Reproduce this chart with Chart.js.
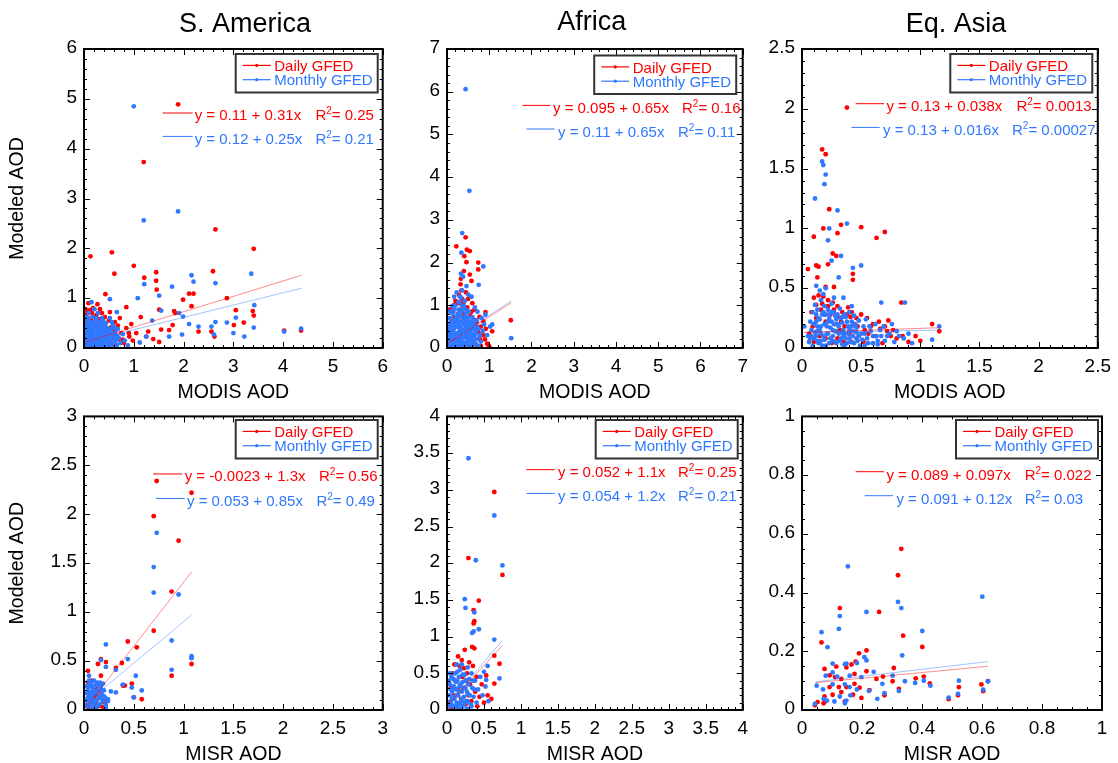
<!DOCTYPE html>
<html>
<head>
<meta charset="utf-8">
<script src="https://cdn.jsdelivr.net/npm/chart.js@4.4.0/dist/chart.umd.min.js"></script>
<style>
  body { margin: 0; background: #fff; }
  #wrap { position: relative; width: 1118px; height: 763px; overflow: hidden; }
  canvas { position: absolute; }
</style>
</head>
<body>
<div id="wrap"></div>
<script>
const saModisDaily = [[1.89,4.89],[1.2,3.73],[2.64,2.38],[3.41,1.99],[0.13,1.84],[0.56,1.92],[1.0,1.65],[0.61,1.49],[1.45,1.52],[1.21,1.41],[1.45,1.35],[2.59,1.54],[1.46,1.17],[2.11,1.09],[2.2,1.09],[1.99,0.97],[2.87,1.0],[2.16,0.84],[1.81,0.74],[3.39,0.74],[3.41,0.65],[3.05,0.76],[3.21,0.51],[3.01,0.46],[4.02,0.35],[4.36,0.35],[2.3,0.33],[2.56,0.33],[2.62,0.23],[0.43,1.08],[0.85,0.82],[1.05,0.3],[1.14,0.62],[1.51,0.77],[1.83,0.7],[1.78,0.46],[1.71,0.36],[1.55,0.37],[1.29,0.33],[1.39,0.18],[1.51,0.12],[1.25,0.23],[0.91,0.23],[0.78,0.17],
  [0.03,0.78],[0.07,0.72],[0.12,0.76],[0.16,0.7],[0.2,0.62],[0.25,0.66],[0.08,0.6],[0.14,0.55],[0.3,0.58],[0.35,0.5],[0.4,0.45],[0.05,0.5],[0.22,0.48],[0.28,0.42],[0.45,0.38],[0.5,0.3],[0.55,0.42],[0.6,0.35],[0.65,0.25],[0.7,0.18],[0.1,0.4],[0.18,0.35],[0.33,0.32],[0.42,0.25],[0.48,0.2],[0.58,0.15],[0.62,0.08],[0.02,0.3],[0.06,0.2],[0.12,0.12],[0.2,0.08],[0.3,0.05],[0.38,0.12],[0.45,0.08],[0.52,0.05],[0.15,0.25],[0.25,0.2],[0.35,0.18],[0.09,0.9],[0.42,0.62],[0.5,0.55],[0.32,0.78],[0.52,0.72],[0.27,0.88],[0.68,0.45],[0.75,0.3],[0.8,0.1],[0.85,0.4],[0.95,0.48],[0.72,0.6],[0.04,0.66],[0.18,0.8],[0.36,0.7],[0.62,0.52],[0.9,0.3],[0.98,0.15]];
const saModisMonthly = [[1.0,4.85],[1.89,2.74],[1.2,2.56],[3.36,1.49],[2.16,1.46],[2.2,1.33],[2.64,1.3],[1.21,1.28],[1.77,1.23],[1.51,1.05],[1.08,1.0],[0.52,0.98],[3.42,0.86],[1.55,0.75],[1.91,0.7],[1.99,0.63],[1.37,0.55],[2.11,0.48],[2.3,0.43],[2.56,0.43],[2.64,0.52],[2.87,0.51],[3.05,0.61],[3.41,0.41],[4.36,0.39],[4.02,0.33],[1.97,0.27],[3.0,0.3],[3.22,0.23],[2.61,0.27],[1.71,0.23],[1.25,0.23],[1.12,0.11],[0.15,0.92],[0.66,0.72],
  [0.02,0.05],[0.05,0.12],[0.08,0.03],[0.1,0.2],[0.13,0.08],[0.15,0.3],[0.18,0.15],[0.2,0.04],[0.22,0.25],[0.25,0.1],[0.27,0.38],[0.3,0.18],[0.32,0.06],[0.35,0.28],[0.38,0.14],[0.4,0.4],[0.42,0.05],[0.45,0.22],[0.48,0.12],[0.5,0.32],[0.53,0.08],[0.55,0.2],[0.58,0.45],[0.6,0.12],[0.63,0.3],[0.66,0.06],[0.7,0.2],[0.03,0.25],[0.06,0.35],[0.04,0.45],[0.09,0.5],[0.12,0.42],[0.07,0.18],[0.11,0.28],[0.16,0.48],[0.19,0.38],[0.23,0.55],[0.26,0.46],[0.29,0.28],[0.33,0.48],[0.36,0.6],[0.17,0.62],[0.1,0.7],[0.05,0.62],[0.21,0.78],[0.28,0.7],[0.41,0.3],[0.44,0.5],[0.47,0.4],[0.52,0.6],[0.56,0.52],[0.62,0.4],[0.68,0.38],[0.73,0.1],[0.78,0.28],[0.82,0.15],[0.88,0.05],[0.14,0.02],[0.24,0.02],[0.34,0.01],[0.01,0.15],[0.01,0.38],[0.08,0.1],[0.16,0.2],[0.24,0.16],[0.31,0.1],[0.37,0.22],[0.44,0.15],[0.5,0.18],[0.57,0.28],[0.2,0.3],[0.13,0.15],[0.06,0.28],[0.27,0.05],[0.39,0.05],[0.46,0.3],[0.54,0.38],[0.61,0.22],
  [0.03,0.08],[0.06,0.02],[0.09,0.14],[0.12,0.32],[0.04,0.36],[0.07,0.42],[0.1,0.06],[0.14,0.38],[0.17,0.1],[0.19,0.26],[0.22,0.08],[0.23,0.18],[0.26,0.3],[0.28,0.12],[0.3,0.36],[0.32,0.24],[0.34,0.14],[0.36,0.08],[0.38,0.32],[0.4,0.2],[0.43,0.1],[0.45,0.36],[0.47,0.05],[0.49,0.25],[0.51,0.14],[0.53,0.3],[0.55,0.04],[0.02,0.2],[0.05,0.4],[0.08,0.25],[0.11,0.12],[0.15,0.08],[0.18,0.32],[0.21,0.42],[0.25,0.25],[0.29,0.45],[0.33,0.4],[0.37,0.45],[0.42,0.45],[0.48,0.34],[0.6,0.3],[0.64,0.16],[0.67,0.24],[0.02,0.55],[0.08,0.58],[0.13,0.52],[0.19,0.5],[0.25,0.6],[0.3,0.52],[0.38,0.55]];

const afModisDaily = [[0.44,2.59],[0.22,2.38],[0.47,2.3],[0.54,2.27],[0.41,2.15],[0.74,2.0],[0.74,1.84],[0.46,2.01],[0.54,1.72],[0.32,1.49],[0.58,1.57],[0.34,1.35],[1.51,0.65],[0.91,0.84],[1.07,0.39],[1.0,0.04],[0.14,0.84],[0.77,0.73],
  [0.05,0.9],[0.12,0.95],[0.2,1.1],[0.28,1.25],[0.38,1.05],[0.45,1.3],[0.5,1.15],[0.6,1.05],[0.65,0.9],[0.3,0.9],[0.4,0.8],[0.55,0.75],[0.7,0.6],[0.8,0.5],[0.85,0.3],[0.9,0.2],[0.95,0.1],[0.75,0.35],[0.62,0.45],[0.5,0.55],[0.1,0.6],[0.18,0.72],[0.25,0.5],[0.35,0.62],[0.42,0.4],[0.05,0.3],[0.15,0.2],[0.3,0.15],[0.45,0.1],[0.6,0.2],[0.68,0.08],[0.8,0.05],[0.22,0.3],[0.55,0.3],[0.35,0.25],[0.02,0.55],[0.48,0.95],[0.58,0.85],[0.26,1.05],[0.33,1.62],[0.4,1.8],[0.86,0.62],[0.92,0.45],[0.16,1.0],[0.36,1.15],[0.66,0.65],[0.78,0.2],[0.72,0.42]];
const afModisMonthly = [[0.44,6.06],[0.53,3.68],[0.36,2.69],[0.34,2.23],[0.33,1.74],[0.86,1.91],[0.75,1.48],[0.38,1.67],[0.17,1.2],[0.31,1.2],[1.52,0.23],[1.07,0.55],[0.91,0.78],
  [0.02,0.1],[0.05,0.3],[0.08,0.5],[0.1,0.15],[0.12,0.4],[0.15,0.65],[0.18,0.25],[0.2,0.05],[0.22,0.5],[0.25,0.8],[0.28,0.35],[0.3,0.6],[0.32,0.12],[0.35,0.45],[0.38,0.9],[0.4,0.25],[0.42,0.7],[0.45,0.5],[0.48,0.15],[0.5,0.35],[0.52,0.62],[0.55,0.05],[0.58,0.25],[0.6,0.45],[0.62,0.15],[0.65,0.3],[0.68,0.1],[0.72,0.22],[0.75,0.45],[0.8,0.15],[0.85,0.4],[0.88,0.55],[0.95,0.3],[1.02,0.5],[0.03,0.7],[0.07,0.85],[0.12,0.98],[0.2,1.0],[0.28,1.08],[0.35,1.0],[0.45,0.9],[0.52,0.85],[0.6,0.72],[0.15,0.05],[0.25,0.15],[0.35,0.05],[0.45,0.3],[0.55,0.45],[0.07,0.2],[0.13,0.28],[0.17,0.45],[0.23,0.22],[0.27,0.55],[0.33,0.3],[0.37,0.7],[0.43,0.08],[0.47,0.58],[0.53,0.2],[0.57,0.6],[0.63,0.55],[0.67,0.4],[0.7,0.65],[0.78,0.3],[0.82,0.7],[0.04,0.02],[0.1,0.35],[0.18,0.6],[0.3,0.4],[0.4,0.55],[0.5,0.05],[0.6,0.02],[0.26,0.7],[0.34,0.85],[0.42,1.1],[0.5,1.25],[0.36,1.35],[0.46,1.45],[0.58,1.2],[0.66,0.95],[0.72,0.85],
  [0.03,0.25],[0.06,0.4],[0.09,0.6],[0.11,0.25],[0.14,0.12],[0.16,0.35],[0.19,0.5],[0.21,0.15],[0.24,0.35],[0.26,0.05],[0.29,0.22],[0.31,0.5],[0.34,0.18],[0.36,0.6],[0.39,0.38],[0.41,0.12],[0.44,0.4],[0.46,0.22],[0.49,0.45],[0.51,0.28],[0.54,0.52],[0.56,0.35],[0.59,0.1],[0.61,0.32],[0.64,0.45],[0.66,0.2],[0.69,0.35],[0.71,0.5],[0.05,0.55],[0.08,0.7],[0.13,0.8],[0.17,0.9],[0.22,0.72],[0.27,0.9],[0.32,0.75],[0.39,0.65],[0.44,0.8],[0.49,0.72],[0.55,0.62],[0.62,0.62],[0.1,0.05],[0.2,0.3],[0.3,0.02],[0.4,0.4],[0.48,0.08],[0.57,0.15],[0.74,0.05],[0.02,0.45],[0.15,0.55],[0.25,0.62],[0.35,0.35],[0.45,0.62],[0.52,0.4],[0.6,0.58],[0.33,1.18],[0.23,1.3],[0.4,0.98]];

const asModisDaily = [[0.38,2.01],[0.17,1.66],[0.2,1.62],[0.23,1.16],[0.33,1.03],[0.5,1.01],[0.7,0.97],[0.63,0.92],[0.18,1.0],[0.1,0.93],[0.3,0.96],[0.26,0.79],[0.29,0.77],[0.22,0.7],[0.12,0.69],[0.43,0.62],[0.43,0.57],[0.05,0.66],[0.14,0.68],[0.13,0.59],[0.2,0.51],[0.27,0.51],[0.84,0.38],[1.1,0.2],[1.16,0.14],[0.73,0.23],
  [0.1,0.42],[0.14,0.44],[0.18,0.43],[0.22,0.4],[0.26,0.38],[0.3,0.35],[0.34,0.3],[0.38,0.28],[0.42,0.3],[0.46,0.25],[0.5,0.28],[0.55,0.25],[0.6,0.2],[0.65,0.22],[0.7,0.18],[0.75,0.1],[0.8,0.08],[0.85,0.1],[0.9,0.05],[0.08,0.3],[0.12,0.25],[0.16,0.32],[0.2,0.22],[0.24,0.28],[0.28,0.2],[0.32,0.15],[0.36,0.18],[0.4,0.12],[0.44,0.2],[0.48,0.1],[0.52,0.05],[0.56,0.12],[0.62,0.1],[0.68,0.04],[0.06,0.12],[0.1,0.05],[0.15,0.1],[0.2,0.08],[0.25,0.04],[0.3,0.08],[0.35,0.05],[0.42,0.05],[0.58,0.18],[0.72,0.14],[0.22,0.35],[0.17,0.37],[0.3,0.26],[0.39,0.34],[0.53,0.15],[0.66,0.16],[0.47,0.18],[0.77,0.15],[0.96,0.1],[1.0,0.06],[0.12,0.36],[0.19,0.28],[0.27,0.32],[0.33,0.22],[0.09,0.18],[0.41,0.26]];
const asModisMonthly = [[0.17,1.56],[0.18,1.53],[0.2,1.45],[0.19,1.37],[0.11,1.25],[0.3,1.15],[0.38,1.04],[0.23,1.0],[0.22,0.9],[0.33,0.77],[0.25,0.73],[0.5,0.69],[0.43,0.67],[0.31,0.59],[0.12,0.52],[0.87,0.38],[0.67,0.38],[1.16,0.18],[1.1,0.07],[0.93,0.04],[0.02,0.18],
  [0.06,0.05],[0.08,0.15],[0.1,0.08],[0.12,0.22],[0.14,0.04],[0.15,0.15],[0.17,0.28],[0.18,0.1],[0.2,0.02],[0.21,0.18],[0.23,0.25],[0.24,0.08],[0.26,0.15],[0.27,0.3],[0.28,0.05],[0.3,0.2],[0.31,0.12],[0.33,0.25],[0.34,0.03],[0.35,0.15],[0.37,0.08],[0.38,0.22],[0.4,0.15],[0.41,0.05],[0.43,0.1],[0.45,0.2],[0.47,0.06],[0.5,0.12],[0.52,0.18],[0.55,0.08],[0.58,0.14],[0.6,0.04],[0.63,0.1],[0.66,0.15],[0.7,0.06],[0.74,0.12],[0.78,0.05],[0.82,0.1],[0.86,0.08],[0.9,0.12],[0.09,0.3],[0.11,0.36],[0.13,0.32],[0.16,0.4],[0.19,0.35],[0.22,0.32],[0.25,0.37],[0.28,0.27],[0.32,0.33],[0.36,0.28],[0.4,0.3],[0.44,0.27],[0.48,0.23],[0.12,0.1],[0.16,0.06],[0.19,0.2],[0.22,0.12],[0.25,0.22],[0.29,0.14],[0.33,0.08],[0.36,0.02],[0.39,0.12],[0.42,0.18],[0.46,0.13],[0.07,0.22],[0.05,0.1],[0.13,0.18],[0.18,0.45],[0.2,0.5],[0.15,0.48],[0.35,0.42],[0.27,0.42],[0.42,0.35],[0.54,0.24],[0.62,0.2],[0.69,0.18],[0.76,0.2],[0.53,0.02],[0.64,0.03],[0.8,0.14],
  [0.07,0.08],[0.09,0.02],[0.11,0.13],[0.13,0.06],[0.14,0.25],[0.16,0.18],[0.17,0.02],[0.19,0.07],[0.2,0.28],[0.21,0.12],[0.22,0.22],[0.23,0.04],[0.24,0.17],[0.25,0.3],[0.26,0.1],[0.27,0.2],[0.28,0.14],[0.29,0.04],[0.3,0.28],[0.31,0.18],[0.32,0.06],[0.33,0.13],[0.34,0.21],[0.35,0.1],[0.37,0.26],[0.38,0.04],[0.39,0.18],[0.4,0.08],[0.42,0.22],[0.43,0.14],[0.44,0.04],[0.46,0.17],[0.48,0.1],[0.49,0.02],[0.51,0.07],[0.53,0.12],[0.56,0.04],[0.57,0.18],[0.6,0.1],[0.64,0.06],[0.67,0.1],[0.72,0.1],[0.1,0.2],[0.12,0.28],[0.15,0.24],[0.18,0.3],[0.23,0.28],[0.29,0.24],[0.34,0.26],[0.16,0.12],[0.26,0.06],[0.36,0.12],[0.46,0.08],[0.08,0.1],[0.13,0.14]];

const saMisrDaily = [[0.73,2.34],[1.08,2.22],[0.7,1.98],[0.95,1.73],[0.88,1.21],[0.7,0.81],[0.44,0.7],[0.53,0.64],[1.08,0.47],[0.88,0.35],[0.38,0.48],[0.32,0.43],[0.17,0.52],[0.14,0.47],[0.22,0.49],[0.04,0.4],[0.48,0.27],[0.58,0.11],[0.5,0.13],[0.39,0.25],[0.41,0.25],[0.17,0.35],[0.22,0.11],[0.16,0.19],[0.11,0.18],
  [0.03,0.05],[0.05,0.12],[0.07,0.25],[0.09,0.08],[0.11,0.22],[0.13,0.15],[0.15,0.04],[0.06,0.18],[0.08,0.3],[0.12,0.06],[0.18,0.12],[0.2,0.08],[0.04,0.28],[0.1,0.14],[0.14,0.26],[0.19,0.03],[0.05,0.02]];
const saMisrMonthly = [[0.73,1.81],[0.7,1.46],[0.7,1.2],[0.95,1.18],[0.88,0.71],[0.22,0.67],[0.44,0.52],[1.08,0.55],[1.08,0.53],[0.88,0.41],[0.32,0.41],[0.17,0.51],[0.22,0.44],[0.52,0.35],[0.48,0.23],[0.39,0.26],[0.58,0.2],[0.5,0.13],[0.27,0.19],[0.32,0.18],[0.24,0.11],[0.22,0.05],[0.05,0.35],
  [0.02,0.04],[0.03,0.1],[0.04,0.2],[0.05,0.06],[0.06,0.15],[0.07,0.28],[0.08,0.02],[0.08,0.12],[0.09,0.22],[0.1,0.07],[0.11,0.17],[0.12,0.26],[0.13,0.1],[0.14,0.2],[0.15,0.14],[0.16,0.06],[0.17,0.24],[0.18,0.16],[0.19,0.09],[0.2,0.2],[0.21,0.13],[0.04,0.13],[0.06,0.24],[0.05,0.3],[0.1,0.3],[0.12,0.02],[0.03,0.17],[0.09,0.15],[0.14,0.05],[0.07,0.08],[0.16,0.28],[0.19,0.27],[0.24,0.09],[0.22,0.02],
  [0.03,0.24],[0.05,0.26],[0.06,0.1],[0.08,0.18],[0.1,0.24],[0.11,0.1],[0.12,0.19],[0.13,0.28],[0.15,0.24],[0.17,0.12],[0.18,0.2],[0.2,0.14],[0.07,0.02],[0.04,0.08],[0.09,0.04]];

const afMisrDaily = [[0.64,2.97],[0.29,2.07],[0.75,1.84],[0.43,1.49],[0.36,1.36],[0.36,1.18],[0.37,1.21],[0.34,0.86],[0.37,0.84],[0.64,0.74],[0.71,0.63],[0.24,0.82],[0.15,0.73],[0.53,0.47],[0.64,0.36],[0.23,0.57],
  [0.03,0.1],[0.05,0.3],[0.07,0.5],[0.09,0.2],[0.11,0.4],[0.13,0.05],[0.15,0.28],[0.17,0.6],[0.19,0.15],[0.21,0.45],[0.23,0.3],[0.25,0.08],[0.27,0.5],[0.29,0.2],[0.31,0.35],[0.33,0.12],[0.35,0.6],[0.38,0.25],[0.41,0.05],[0.44,0.18],[0.47,0.35],[0.5,0.1],[0.55,0.2],[0.6,0.15],[0.1,0.62],[0.2,0.68],[0.3,0.65],[0.4,0.45],[0.06,0.02],[0.26,0.4]];
const afMisrMonthly = [[0.29,3.43],[0.64,2.65],[0.39,2.04],[0.75,1.97],[0.24,1.51],[0.25,1.39],[0.37,1.33],[0.43,1.1],[0.34,1.05],[0.36,1.07],[0.64,0.96],[0.71,0.43],[0.5,0.52],[0.53,0.41],[0.55,0.6],
  [0.02,0.05],[0.03,0.2],[0.04,0.35],[0.05,0.12],[0.06,0.45],[0.07,0.25],[0.08,0.05],[0.09,0.32],[0.1,0.15],[0.11,0.5],[0.12,0.28],[0.13,0.1],[0.14,0.4],[0.15,0.2],[0.16,0.02],[0.17,0.32],[0.18,0.55],[0.19,0.12],[0.2,0.25],[0.21,0.38],[0.22,0.06],[0.23,0.18],[0.24,0.48],[0.25,0.3],[0.26,0.12],[0.28,0.22],[0.3,0.42],[0.32,0.08],[0.34,0.3],[0.36,0.18],[0.38,0.4],[0.4,0.1],[0.42,0.28],[0.45,0.45],[0.48,0.2],[0.52,0.32],[0.56,0.12],[0.2,0.62],[0.28,0.58],[0.13,0.62],[0.33,0.5],[0.07,0.15],[0.12,0.38],[0.17,0.08],[0.27,0.02],
  [0.03,0.4],[0.05,0.28],[0.06,0.08],[0.08,0.18],[0.09,0.42],[0.1,0.3],[0.12,0.05],[0.13,0.2],[0.14,0.52],[0.16,0.25],[0.16,0.45],[0.18,0.35],[0.19,0.02],[0.2,0.15],[0.21,0.48],[0.22,0.3],[0.24,0.1],[0.25,0.4],[0.27,0.25],[0.28,0.12],[0.29,0.35],[0.31,0.2],[0.33,0.05],[0.35,0.4],[0.37,0.28],[0.04,0.5]];

const asMisrDaily = [[0.331,0.549],[0.32,0.459],[0.126,0.347],[0.257,0.334],[0.337,0.253],[0.065,0.23],[0.401,0.215],[0.215,0.203],[0.19,0.193],[0.075,0.14],[0.114,0.148],[0.148,0.145],[0.165,0.155],[0.306,0.143],[0.179,0.165],[0.092,0.118],[0.11,0.112],[0.131,0.106],[0.175,0.123],[0.215,0.132],[0.248,0.106],[0.27,0.114],[0.379,0.108],[0.406,0.114],[0.302,0.098],[0.426,0.091],[0.092,0.078],[0.123,0.078],[0.148,0.078],[0.175,0.089],[0.192,0.076],[0.225,0.068],[0.323,0.072],[0.523,0.078],[0.598,0.087],[0.075,0.046],[0.102,0.052],[0.131,0.061],[0.17,0.052],[0.198,0.041],[0.275,0.05],[0.072,0.023],[0.079,0.03],[0.143,0.029],[0.052,0.027],[0.043,0.016],[0.489,0.037],[0.52,0.05],[0.604,0.064],[0.62,0.098]];
const asMisrMonthly = [[0.153,0.489],[0.601,0.386],[0.32,0.368],[0.331,0.347],[0.215,0.334],[0.126,0.32],[0.123,0.276],[0.401,0.269],[0.065,0.265],[0.085,0.214],[0.334,0.186],[0.208,0.18],[0.215,0.169],[0.148,0.158],[0.143,0.156],[0.102,0.158],[0.183,0.16],[0.239,0.13],[0.102,0.128],[0.079,0.117],[0.117,0.114],[0.159,0.117],[0.198,0.112],[0.302,0.117],[0.268,0.089],[0.343,0.098],[0.377,0.092],[0.406,0.1],[0.428,0.083],[0.523,0.1],[0.62,0.098],[0.049,0.083],[0.102,0.087],[0.143,0.087],[0.159,0.078],[0.183,0.07],[0.223,0.065],[0.07,0.07],[0.323,0.065],[0.161,0.05],[0.126,0.046],[0.072,0.038],[0.108,0.029],[0.083,0.032],[0.148,0.032],[0.143,0.023],[0.251,0.038],[0.275,0.057],[0.489,0.042],[0.52,0.055],[0.604,0.069],[0.043,0.021]];

// fitted lines, end points
const fitDaily = [[[0,0.11],[4.37,1.46]], [[0,0.095],[1.52,1.06]], [[0.02,0.13],[1.17,0.17]], [[0.03,0.04],[1.08,1.41]], [[0.03,0.09],[0.75,0.88]], [[0.045,0.093],[0.62,0.149]]];
const fitMonthly = [[[0,0.12],[4.37,1.2]], [[0,0.11],[1.52,1.1]], [[0.02,0.13],[1.17,0.15]], [[0.03,0.08],[1.08,0.97]], [[0.03,0.09],[0.75,0.95]], [[0.045,0.096],[0.62,0.165]]];

const eqDaily = ['y = 0.11 + 0.31x', 'y = 0.095 + 0.65x', 'y = 0.13 + 0.038x', 'y = -0.0023 + 1.3x', 'y = 0.052 + 1.1x', 'y = 0.089 + 0.097x'];
const eqMonthly = ['y = 0.12 + 0.25x', 'y = 0.11 + 0.65x', 'y = 0.13 + 0.016x', 'y = 0.053 + 0.85x', 'y = 0.054 + 1.2x', 'y = 0.091 + 0.12x'];
const r2Daily = ['0.25', '0.16', '0.0013', '0.56', '0.25', '0.022'];
const r2Monthly = ['0.21', '0.11', '0.00027', '0.49', '0.21', '0.03'];

const regionTitles = ['S. America', 'Africa', 'Eq. Asia'];
const xTitles = ['MODIS AOD', 'MISR AOD'];
const yTitle = 'Modeled AOD';
const seriesNames = ['Daily GFED', 'Monthly GFED'];
// axis ranges: [max, major step, minor step]
const xAxes = [[6,1,0.2], [7,1,0.2], [2.5,0.5,0.1], [3,0.5,0.1], [4,0.5,0.1], [1,0.2,0.05]];
const yAxes = [[6,1,0.2], [7,1,0.2], [2.5,0.5,0.1], [3,0.5,0.1], [4,0.5,0.1], [1,0.2,0.05]];

// ---- layout (page pixels) ----
const RED = '#ff0000', BLUE = '#2f78ff';
const FONT = '"Liberation Sans", Arial, Helvetica, sans-serif';
const cols = [[0, 395], [395, 360], [755, 363]];
const rows = [[0, 405], [398, 365]];
const plotX = [[84, 385], [447, 748], [802, 1102]];
const plotY = [[49, 348], [411, 710]];
const legendInset = [[5, 5], [6.5, 6.5], [5.5, 5], [5, 3.6], [5, 3.6], [4, 3.6]];
const titlePos = [[245, 31.5], [591.7, 29.5], [956, 31.5]];
// [line x1, line x2, line y, text x, text baseline, R2 x] relative to plot top-left
const eqPosDaily = [[78.7,108.7,64,110.7,71.3,231.4], [75.4,103.4,56.4,106,64,235], [53.7,82,54.7,84.4,62.4,214.4], [69,98.4,57.6,100.7,65,235], [79.4,107.7,53.3,111,61,231], [53.7,82,55.3,84.4,63.6,222.7]];
const eqPosMonthly = [[78.7,108.7,87.4,110.7,95.2,231.4], [79.4,107.7,80,111,88,231], [49.4,77.7,78.4,81,86.4,210], [71.7,100.7,82,103,89.3,232.4], [79.4,107.7,77,111,84.6,231], [62.7,91,79.3,94.4,87.6,222.7]];

const seriesData = [
  [saModisDaily, saModisMonthly], [afModisDaily, afModisMonthly], [asModisDaily, asModisMonthly],
  [saMisrDaily, saMisrMonthly], [afMisrDaily, afMisrMonthly], [asMisrDaily, asMisrMonthly]
];

const toXY = arr => arr.map(p => ({ x: p[0], y: p[1] }));
const fmt = v => String(+v.toFixed(3));

function drawTicks(ctx, a, scale, axis, max, minor, major) {
  const n = Math.round(max / minor);
  ctx.beginPath();
  for (let i = 0; i <= n; i++) {
    const v = i * minor;
    const r = v / major;
    const len = Math.abs(r - Math.round(r)) < 1e-6 ? 6 : 3;
    const p = Math.round(scale.getPixelForValue(v)) + 0.5;
    if (axis === 'x') {
      ctx.moveTo(p, a.bottom); ctx.lineTo(p, a.bottom - len);
      ctx.moveTo(p, a.top); ctx.lineTo(p, a.top + len);
    } else {
      ctx.moveTo(a.left, p); ctx.lineTo(a.left + len, p);
      ctx.moveTo(a.right, p); ctx.lineTo(a.right - len, p);
    }
  }
  ctx.stroke();
}

const decor = {
  id: 'decor',
  afterDraw(chart, args, o) {
    const i = o.index, col = i % 3, row = Math.floor(i / 3);
    const ctx = chart.ctx, a = chart.chartArea;
    const ox = cols[col][0], oy = rows[row][0];
    ctx.save();
    ctx.strokeStyle = '#000';
    ctx.lineWidth = 1;
    drawTicks(ctx, a, chart.scales.x, 'x', xAxes[i][0], xAxes[i][2], xAxes[i][1]);
    drawTicks(ctx, a, chart.scales.y, 'y', yAxes[i][0], yAxes[i][2], yAxes[i][1]);
    ctx.lineWidth = 2;
    ctx.strokeRect(a.left, a.top, a.right - a.left, a.bottom - a.top);

    // legend box
    const bw = 142, bh = 38.5;
    const bx = a.right - legendInset[i][0] - bw, by = a.top + legendInset[i][1];
    ctx.fillStyle = '#fff';
    ctx.fillRect(bx, by, bw, bh);
    ctx.strokeStyle = '#333';
    ctx.lineWidth = 2;
    ctx.strokeRect(bx, by, bw, bh);
    ctx.font = '15px ' + FONT;
    ctx.textAlign = 'left';
    ctx.textBaseline = 'alphabetic';
    [[RED, 11.4, 17.2], [BLUE, 25.7, 31.4]].forEach((r, k) => {
      ctx.strokeStyle = r[0];
      ctx.fillStyle = r[0];
      ctx.lineWidth = 1.2;
      ctx.beginPath();
      ctx.moveTo(bx + 7, by + r[1]); ctx.lineTo(bx + 35, by + r[1]);
      ctx.stroke();
      ctx.beginPath();
      ctx.arc(bx + 21, by + r[1], 1.6, 0, Math.PI * 2);
      ctx.fill();
      ctx.fillText(seriesNames[k], bx + 38.5, by + r[2]);
    });

    // regression equations
    [[RED, eqPosDaily[i], eqDaily[i], r2Daily[i]], [BLUE, eqPosMonthly[i], eqMonthly[i], r2Monthly[i]]].forEach(e => {
      const p = e[1];
      ctx.strokeStyle = e[0];
      ctx.fillStyle = e[0];
      ctx.lineWidth = 1;
      ctx.beginPath();
      ctx.moveTo(a.left + p[0], a.top + p[2]); ctx.lineTo(a.left + p[1], a.top + p[2]);
      ctx.stroke();
      ctx.font = '15px ' + FONT;
      ctx.fillText(e[2], a.left + p[3], a.top + p[4]);
      let x = a.left + p[5];
      ctx.fillText('R', x, a.top + p[4]);
      x += ctx.measureText('R').width;
      ctx.font = '10px ' + FONT;
      ctx.fillText('2', x, a.top + p[4] - 6);
      x += ctx.measureText('2').width;
      ctx.font = '15px ' + FONT;
      ctx.fillText('= ' + e[3], x, a.top + p[4]);
    });

    // titles
    ctx.fillStyle = '#000';
    ctx.textAlign = 'center';
    if (row === 0) {
      ctx.font = '27px ' + FONT;
      ctx.fillText(regionTitles[col], titlePos[col][0] - ox, titlePos[col][1] - oy);
    }
    ctx.font = '19.5px ' + FONT;
    const xtBase = row === 0 ? 398 : 759.5;
    ctx.fillText(xTitles[row], (a.left + a.right) / 2, xtBase - oy);
    if (col === 0) {
      ctx.translate(18 - ox, (a.top + a.bottom) / 2);
      ctx.rotate(-Math.PI / 2);
      ctx.textBaseline = 'middle';
      ctx.fillText(yTitle, 0, 0);
    }
    ctx.restore();
  }
};

const wrap = document.getElementById('wrap');
for (let i = 0; i < 6; i++) {
  const col = i % 3, row = Math.floor(i / 3);
  const [cx, cw] = cols[col], [cy, ch] = rows[row];
  const [pl, pr] = plotX[col], [pt, pb] = plotY[row];
  const cv = document.createElement('canvas');
  cv.width = cw; cv.height = ch;
  cv.style.left = cx + 'px'; cv.style.top = cy + 'px';
  wrap.appendChild(cv);

  const tickFont = { family: FONT, size: 19 };
  new Chart(cv, {
    type: 'scatter',
    data: {
      datasets: [
        { label: seriesNames[0], data: toXY(seriesData[i][0]), backgroundColor: RED, pointRadius: 2.4, borderWidth: 0, order: 2 },
        { label: seriesNames[1], data: toXY(seriesData[i][1]), backgroundColor: BLUE, pointRadius: 2.4, borderWidth: 0, order: 1 },
        { data: toXY(fitDaily[i]), showLine: true, borderColor: 'rgba(255,0,0,0.45)', borderWidth: 1, pointRadius: 0, order: 0 },
        { data: toXY(fitMonthly[i]), showLine: true, borderColor: 'rgba(47,120,255,0.45)', borderWidth: 1, pointRadius: 0, order: 0 }
      ]
    },
    options: {
      responsive: false,
      animation: false,
      devicePixelRatio: 1,
      layout: { padding: { left: 0, bottom: 0, top: pt - cy, right: cx + cw - pr } },
      plugins: { legend: { display: false }, tooltip: { enabled: false }, decor: { index: i } },
      scales: {
        x: {
          type: 'linear', min: 0, max: xAxes[i][0],
          afterFit: s => { s.height = cy + ch - pb; },
          grid: { display: false, drawTicks: false }, border: { display: false },
          ticks: { stepSize: xAxes[i][1], autoSkip: false, maxRotation: 0, padding: 7, color: '#000', font: tickFont, callback: fmt }
        },
        y: {
          type: 'linear', min: 0, max: yAxes[i][0],
          afterFit: s => { s.width = pl - cx; },
          grid: { display: false, drawTicks: false }, border: { display: false },
          ticks: { stepSize: yAxes[i][1], autoSkip: false, padding: 7, labelOffset: -1, color: '#000', font: tickFont, callback: fmt }
        }
      }
    },
    plugins: [decor]
  });
}
</script>
</body>
</html>
